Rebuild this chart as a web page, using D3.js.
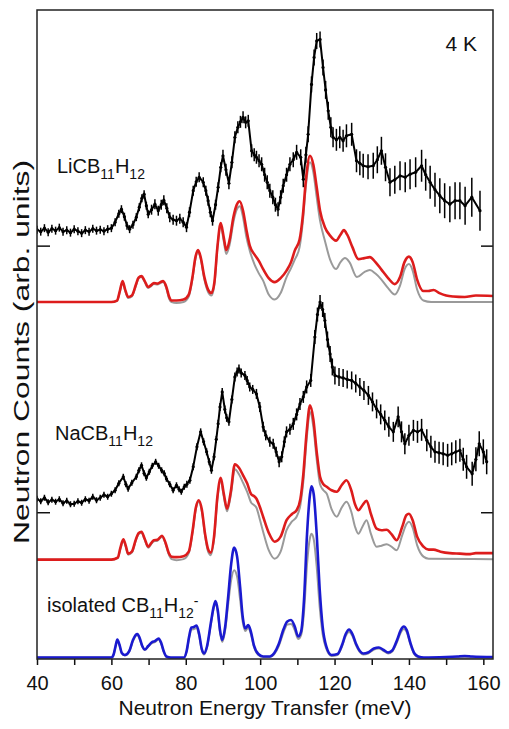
<!DOCTYPE html>
<html>
<head>
<meta charset="utf-8">
<script src="https://cdn.jsdelivr.net/npm/d3@7"></script>
<style>
  html, body { margin: 0; padding: 0; background: #fff; }
  text { font-family: "Liberation Sans", Arial, Helvetica, sans-serif; fill: #111; }
</style>
</head>
<body>
<svg id="chart" width="509" height="729"></svg>
<script>
// ---------------- DATA (energy in meV, intensity in arb. units incl. vertical offsets) -------------
const xTicks = [40, 50, 60, 70, 80, 90, 100, 110, 120, 130, 140, 150, 160];
const xTickLabels = ["40", "", "60", "", "80", "", "100", "", "120", "", "140", "", "160"];
const yMarks = [29.4, 82.8];

// LiCB11H12 experiment: [E, counts, error]
const liExp = [
[40,86.0,0.8],[41,85.6,0.8],[42,86.3,0.8],[43,85.5,0.8],[44,86.2,0.8],[45,85.8,0.8],[46,86.4,0.8],[47,85.6,0.8],
[48,85.9,0.8],[49,85.4,0.8],[50,86.1,0.8],[51,85.7,0.8],[52,85.3,0.8],[53,85.9,0.8],[54,85.6,0.8],[55,86.2,0.8],
[56,85.8,0.8],[57,86.0,0.8],[58,85.7,0.8],[59,86.1,0.8],[60,86.3,0.8],[61,87.5,0.8],[62,89.2,0.8],[62.7,90.1,0.8],
[63.5,88.6,0.8],[64.2,86.8,0.8],[64.9,86.1,0.8],[65.8,87.0,0.8],[66.7,88.5,0.8],[67.5,90.5,0.8],[68.2,92.3,0.8],
[68.8,93.1,0.8],[69.4,90.8,0.8],[69.9,89.1,0.8],[70.8,90.0,1.0],[71.7,91.1,1.0],[72.6,89.8,1.0],[73.4,91.0,1.0],
[74.1,91.9,1.0],[74.9,90.3,1.0],[75.7,88.5,1.0],[76.6,88.0,1.0],[77.5,87.8,1.0],[78.4,88.2,1.0],[79.3,87.5,1.0],
[80.2,86.5,1.0],[81.0,89.5,1.0],[82.0,93.8,1.0],[82.8,95.6,1.0],[83.6,96.5,1.0],[84.7,95.5,1.0],[85.4,93.8,1.0],
[86.0,91.8,1.0],[86.6,89.5,1.0],[87.2,87.8,1.0],[88.0,91.0,1.0],[88.7,94.5,1.0],[89.4,98.5,1.0],[90.0,100.8,1.2],
[90.8,98.0,1.2],[91.6,95.3,1.2],[92.4,99.5,1.2],[93.2,104.5,1.2],[94.0,106.5,1.2],[94.7,107.6,1.2],[95.4,108.5,1.2],
[96.1,107.5,1.2],[96.8,107.8,1.2],[97.7,101.8,1.3],[98.4,101.0,1.3],[99.0,100.5,1.3],[99.7,99.8,1.3],[100.4,99.1,1.4],
[101.2,97.0,1.4],[101.9,95.5,1.4],[102.6,93.8,1.4],[103.4,92.5,1.4],[104.1,91.0,1.4],[104.8,90.1,1.4],[105.5,92.5,1.4],
[106.2,94.8,1.4],[107.1,97.0,1.4],[108.0,99.1,1.4],[108.9,100.0,1.5],[109.8,101.5,1.5],[110.9,100.5,1.6],[111.6,96.1,1.6],
[112.3,101.0,1.6],[112.9,105.1,1.6],[113.8,115.1,1.6],[114.5,120.5,1.6],[115.2,123.8,1.6],[116.1,124.1,1.6],
[116.9,118.5,1.6],[117.6,114.0,1.8],[118.3,109.8,1.8],[119.0,106.5,2.0],[119.6,104.5,2.0],[120.5,104.0,2.2],
[121.4,104.5,2.2],[122.3,103.8,2.2],[123.2,104.8,2.3],[124.6,105.1,2.3],[125.9,99.8,2.3],[126.8,99.3,2.4],
[127.7,98.8,2.4],[129.0,98.6,2.5],[130.4,98.8,2.6],[131.5,100.0,2.7],[132.6,101.8,2.8],[133.7,98.5,2.8],[134.9,95.5,2.8],
[136.2,96.0,2.8],[137.6,96.8,2.9],[139.0,96.5,3.0],[140.3,97.1,3.0],[141.8,97.5,3.0],[143.4,98.8,3.2],[144.5,97.0,3.2],
[145.7,95.5,3.3],[147.0,94.0,3.4],[148.3,92.8,3.5],[149.6,91.8,3.5],[151.0,91.1,3.6],[152.4,91.8,3.7],[153.7,91.8,3.7],
[155.1,90.8,3.8],[156.9,92.5,3.9],[159.1,89.8,4.0]
];

// NaCB11H12 experiment: [E, counts, error]
const naExp = [
[40,32.1,0.6],[41,31.6,0.6],[42,32.3,0.6],[43,31.4,0.6],[44,31.9,0.6],[45,31.5,0.6],[46,32.0,0.6],[47,31.2,0.6],
[48,31.7,0.6],[49,31.0,0.6],[50,31.1,0.6],[51,31.6,0.6],[52,31.3,0.6],[53,32.0,0.6],[54,31.7,0.6],[55,32.5,0.6],
[56,31.8,0.6],[57,32.3,0.6],[58,32.9,0.6],[59,32.5,0.6],[60,33.1,0.6],[61,33.8,0.6],[62,35.2,0.6],[63.2,36.5,0.6],
[63.9,35.0,0.6],[64.5,34.1,0.6],[65.5,35.3,0.6],[66.7,36.5,0.6],[67.4,37.8,0.6],[68.1,38.8,0.6],[68.8,37.2,0.6],
[69.4,36.3,0.6],[70.2,37.5,0.6],[71.0,38.7,0.6],[71.9,39.5,0.6],[72.7,38.7,0.6],[73.5,37.8,0.6],[74.2,37.2,0.6],
[74.8,36.1,0.6],[75.7,35.0,0.6],[76.6,33.8,0.6],[77.5,34.8,0.6],[78.2,34.0,0.6],[78.8,33.5,0.6],[79.6,34.5,0.6],
[80.3,35.0,0.7],[81.1,35.8,0.7],[82.0,38.5,0.7],[83.0,42.5,0.7],[84.0,45.5,0.7],[84.8,43.5,0.7],[85.6,41.5,0.7],
[86.3,39.5,0.7],[86.9,37.8,0.7],[87.6,40.5,0.7],[88.2,44.0,0.7],[88.7,47.1,0.8],[89.2,50.5,0.8],[89.8,53.5,0.8],
[90.5,50.0,0.8],[91.0,48.3,0.8],[91.6,47.5,0.8],[92.4,52.0,0.8],[93.2,56.5,0.9],[93.8,57.5,0.9],[94.3,58.1,0.9],
[94.9,57.3,0.9],[95.9,56.8,0.9],[96.5,55.8,0.9],[97.2,54.5,0.9],[98.0,54.0,0.9],[99.0,53.1,1.0],[99.9,50.5,1.0],
[100.8,46.5,1.0],[101.5,44.8,1.0],[102.6,43.5,1.0],[103.5,43.1,1.0],[104.3,41.5,1.0],[105.1,39.5,1.1],[105.8,40.5,1.1],
[106.5,43.5,1.1],[107.1,45.5,1.1],[108.0,46.0,1.1],[108.9,47.1,1.2],[109.8,49.0,1.2],[110.7,51.1,1.2],[111.6,52.5,1.2],
[112.5,54.5,1.3],[113.6,55.8,1.3],[114.7,64.5,1.4],[115.4,69.0,1.4],[116.1,71.5,1.4],[116.8,70.0,1.5],[117.4,67.8,1.5],
[118.1,64.0,1.6],[118.8,61.1,1.6],[119.4,58.5,1.7],[120.1,56.8,1.8],[121.2,56.5,1.8],[122.3,56.3,1.8],[123.4,56.0,1.8],
[124.6,55.8,1.8],[125.7,55.2,1.8],[126.8,54.5,1.8],[127.9,53.8,1.9],[129.1,52.8,1.9],[130.2,51.5,1.9],[131.3,50.1,1.9],
[132.4,49.0,2.0],[133.5,47.8,2.0],[134.6,46.5,2.0],[135.8,45.5,2.0],[137.1,48.5,2.1],[138.0,45.5,2.1],[138.9,43.1,2.1],
[140.0,44.8,2.1],[141.2,45.8,2.1],[142.3,45.5,2.2],[143.4,45.9,2.2],[144.8,43.8,2.2],[145.9,42.5,2.2],[147.0,41.5,2.2],
[148.1,41.3,2.2],[149.2,41.1,2.3],[150.4,40.8,2.3],[151.5,41.1,2.3],[152.6,41.5,2.3],[153.7,41.8,2.3],[154.6,40.0,2.3],
[155.5,38.5,2.4],[157.0,37.1,2.4],[158.0,40.0,2.4],[158.9,43.1,2.5],[160.0,41.5,2.5],[160.9,39.5,2.5]
];

// LiCB11H12 calculation (red) and second calculation (gray): [E, value]
const liCalcRed = [
[40,71.5],[60,71.5],[61.5,71.8],[62.3,73.8],[63.0,75.7],[63.7,74.0],[64.5,72.5],[65.5,72.8],[66.6,75.0],[67.3,76.4],
[68.1,76.7],[68.9,75.8],[69.9,74.5],[70.7,74.9],[71.4,75.3],[72.4,75.2],[73.2,75.5],[73.9,75.7],[74.8,74.5],[75.5,72.6],
[76.2,71.8],[77.5,71.8],[79.4,72.0],[80.8,73.0],[81.8,76.5],[82.6,80.5],[83.3,81.9],[84.0,80.5],[85.0,76.5],[86.0,74.0],
[86.9,73.3],[87.7,75.5],[88.5,82.5],[89.4,87.3],[90.2,84.5],[90.9,81.9],[91.8,84.0],[92.8,88.5],[93.7,91.0],[94.5,91.7],
[95.4,89.8],[96.3,86.0],[97.2,82.8],[98.5,81.0],[99.6,79.8],[100.8,78.1],[102.3,76.3],[103.9,75.5],[105.5,76.3],
[107.1,77.8],[108.3,79.5],[109.3,81.8],[110.6,84.0],[111.5,89.0],[112.3,96.0],[113.4,100.8],[114.3,99.0],[115.2,94.5],
[116.1,89.8],[117.4,86.5],[118.8,84.8],[120.4,83.8],[121.6,85.0],[122.5,85.9],[123.4,85.0],[124.8,82.5],[126.4,80.1],
[128.0,80.3],[129.5,80.5],[131.0,79.5],[132.6,78.0],[134.4,76.3],[136.2,75.1],[137.6,76.5],[138.8,79.5],[140.0,80.6],
[141.0,79.5],[142.2,76.0],[143.9,73.7],[145.2,73.7],[146.6,73.9],[148.2,73.3],[150.0,72.8],[151.9,72.6],[155,72.5],
[158,72.8],[162.6,72.7]
];
const liCalcGray = [
[40,71.5],[60,71.5],[61.5,71.7],[62.3,73.6],[63.0,75.5],[63.7,73.8],[64.5,72.3],[65.5,72.6],[66.6,74.8],[67.3,76.2],
[68.1,76.5],[68.9,75.6],[69.9,74.3],[70.7,74.7],[71.4,75.1],[72.4,75.0],[73.2,75.3],[73.9,75.5],[74.8,74.2],[75.5,72.2],
[76.2,71.5],[77.5,71.3],[79.4,71.5],[80.8,72.6],[81.8,76.2],[82.6,80.2],[83.3,81.6],[84.0,80.2],[85.0,76.0],[86.0,73.5],
[86.9,72.8],[87.7,75.0],[88.5,82.3],[89.4,86.8],[90.2,83.7],[90.9,81.1],[91.8,83.0],[92.8,87.5],[93.7,90.0],[94.5,90.7],
[95.4,88.5],[96.3,84.5],[97.2,81.8],[98.5,79.0],[99.6,77.3],[100.8,75.8],[102.3,73.0],[103.9,72.0],[105.5,73.3],
[107.1,76.5],[108.3,78.3],[109.3,80.0],[110.6,82.5],[111.5,87.8],[112.3,94.8],[113.4,99.5],[114.3,97.5],[115.2,92.5],
[116.1,87.8],[117.4,83.8],[118.8,80.0],[120.4,78.1],[121.6,79.5],[122.8,80.3],[124.0,79.5],[126.0,76.5],[128.0,77.5],
[129.5,77.9],[131.0,77.2],[132.6,76.0],[134.4,74.3],[136.2,73.0],[137.6,74.8],[138.8,78.0],[140.0,79.1],[141.0,77.8],
[142.2,74.0],[143.9,71.8],[146,71.5],[162.6,71.5]
];

// NaCB11H12 calculation (red) and second calculation (gray): [E, value]
const naCalcRed = [
[40,19.9],[60,19.9],[61.7,20.3],[62.4,22.2],[63.2,24.0],[63.9,22.6],[64.5,21.1],[65.5,21.5],[66.6,24.0],[67.3,25.2],
[68.1,25.5],[68.9,24.2],[69.9,22.5],[70.7,23.2],[71.4,23.8],[72.4,23.9],[73.6,24.7],[74.6,23.2],[75.4,21.3],[76.2,20.5],
[77.5,20.4],[79.4,20.6],[80.8,21.5],[81.8,25.5],[82.7,30.3],[83.5,31.8],[84.3,30.0],[85.2,25.0],[86.0,22.0],[86.7,21.3],
[87.6,24.5],[88.5,32.5],[89.4,36.3],[90.2,33.2],[91.1,30.1],[92.1,33.5],[93.2,39.0],[94.3,38.3],[95.4,36.8],[96.5,35.2],
[97.6,33.0],[98.4,32.6],[99.0,32.1],[99.9,30.5],[100.8,28.5],[102.3,25.3],[103.9,23.5],[105.5,24.5],[107.1,27.8],
[108.5,29.0],[109.8,29.8],[110.8,32.0],[111.6,37.0],[112.5,45.5],[113.4,50.8],[114.3,48.0],[115.2,41.5],[116.1,36.5],
[117.0,35.0],[117.9,34.5],[119.2,33.8],[120.6,33.5],[121.9,34.8],[123.2,35.8],[124.5,33.8],[125.5,31.0],[126.4,29.8],
[127.5,30.8],[128.6,31.7],[129.8,29.0],[131.3,26.1],[132.6,25.8],[134.0,25.9],[135.3,25.0],[136.7,23.8],[138.2,26.5],
[139.3,28.8],[140.0,29.1],[141.0,27.8],[142.2,24.5],[143.9,22.5],[145.3,21.9],[146.6,21.9],[148.5,21.5],[151,21.2],
[153.7,21.1],[156,21.0],[158,21.2],[162.6,21.2]
];
const naCalcGray = [
[40,19.9],[60,19.9],[61.7,20.2],[62.4,22.0],[63.2,23.8],[63.9,22.4],[64.5,20.9],[65.5,21.3],[66.6,23.8],[67.3,25.0],
[68.1,25.3],[68.9,24.0],[69.9,22.3],[70.7,23.0],[71.4,23.6],[72.4,23.7],[73.6,24.5],[74.6,23.0],[75.4,21.0],[76.2,20.0],
[77.5,19.8],[79.4,20.0],[80.8,21.2],[81.8,25.2],[82.7,30.0],[83.5,31.5],[84.3,29.7],[85.2,24.6],[86.0,21.5],[86.7,20.8],
[87.6,24.0],[88.5,32.0],[89.4,35.8],[90.2,32.6],[91.1,29.6],[92.1,32.8],[93.2,38.0],[94.3,37.0],[95.4,35.3],[96.5,33.5],
[97.6,31.3],[98.4,30.8],[99.0,30.3],[99.9,28.0],[100.8,25.5],[102.3,21.8],[103.9,20.1],[105.5,21.5],[107.1,25.8],
[108.5,27.5],[109.8,28.5],[110.8,30.8],[111.6,35.5],[112.5,44.0],[113.4,49.5],[114.3,46.5],[115.2,40.0],[116.1,35.0],
[117.0,33.8],[117.9,33.1],[119.2,30.0],[120.6,28.5],[121.9,30.3],[123.2,31.5],[124.5,29.5],[125.5,26.5],[126.4,25.1],
[127.5,26.5],[128.6,27.8],[129.8,25.0],[131.3,22.5],[132.6,22.7],[134.0,23.0],[135.3,22.5],[136.7,21.8],[138.2,24.8],
[139.3,27.0],[140.0,27.5],[141.0,26.3],[142.2,22.8],[143.9,20.5],[145.3,20.1],[162.6,20.0]
];

// isolated CB11H12- calculation (blue) and second calculation (gray): [E, value]
const isoCalcBlue = [
[40,0.3],[60,0.3],[60.6,0.9],[61.1,2.5],[61.6,3.9],[62.2,2.8],[62.8,1.2],[63.6,0.8],[64.8,1.6],[65.8,3.8],[66.5,4.8],
[67.0,5.0],[67.6,4.2],[68.3,2.6],[69.0,1.9],[69.9,2.6],[70.8,3.3],[71.7,3.6],[72.7,4.1],[73.4,3.2],[74.1,1.5],[74.8,0.5],
[76,0.3],[79.5,0.3],[80.2,1.5],[80.9,4.5],[81.5,6.3],[82.2,6.4],[82.9,6.7],[83.6,5.0],[84.3,2.0],[84.9,1.1],[85.7,2.5],
[86.8,7.5],[87.5,10.5],[88.0,11.6],[88.6,9.8],[89.2,5.8],[89.8,3.8],[90.6,6.5],[91.4,12.5],[92.2,19.0],[93.0,22.3],
[93.8,20.5],[94.6,14.5],[95.3,8.5],[96.0,6.1],[96.8,6.8],[97.5,5.5],[98.3,2.8],[99.5,1.0],[100.8,0.5],[102.6,0.5],
[103.8,1.2],[105.0,3.0],[106.3,6.0],[107.3,7.5],[108.3,7.8],[109.3,6.5],[110.2,4.5],[111.0,5.5],[111.8,12.0],[112.6,25.0],
[113.4,33.0],[113.8,34.6],[114.4,33.0],[115.2,25.0],[116.0,14.0],[116.8,6.5],[117.8,2.5],[119.2,0.8],[120.8,1.0],
[122.0,2.8],[123.0,5.0],[123.9,5.9],[124.8,5.0],[125.8,3.0],[126.8,1.6],[127.7,1.1],[129.0,1.3],[130.6,2.1],[131.9,2.3],
[133.2,1.8],[134.4,1.3],[135.5,1.7],[136.8,3.8],[137.8,5.8],[138.6,6.5],[139.4,5.8],[140.4,3.2],[141.4,1.2],[142.5,0.5],
[144,0.3],[150,0.4],[153,0.5],[155,0.6],[157,0.5],[162.6,0.4]
];
const isoCalcGray = [
[40,0.3],[60,0.3],[60.6,0.9],[61.1,2.4],[61.6,3.7],[62.2,2.7],[62.8,1.1],[63.6,0.7],[64.8,1.5],[65.8,3.6],[66.5,4.6],
[67.0,4.8],[67.6,4.0],[68.3,2.5],[69.0,1.8],[69.9,2.5],[70.8,3.1],[71.7,3.4],[72.7,3.9],[73.4,3.0],[74.1,1.4],[74.8,0.4],
[76,0.2],[79.5,0.2],[80.2,1.4],[80.9,4.2],[81.5,5.9],[82.2,6.0],[82.9,6.2],[83.6,4.6],[84.3,1.8],[84.9,0.9],[85.7,2.3],
[86.8,7.2],[87.5,10.1],[88.0,11.2],[88.6,9.4],[89.2,5.4],[89.8,3.4],[90.6,5.8],[91.4,11.0],[92.2,15.8],[93.0,17.8],
[93.8,16.5],[94.6,12.0],[95.3,7.5],[96.0,5.6],[96.8,6.3],[97.5,5.0],[98.3,2.5],[99.5,0.8],[100.8,0.4],[102.6,0.4],
[103.8,1.0],[105.0,2.6],[106.3,5.4],[107.3,6.9],[108.3,7.0],[109.3,5.8],[110.2,4.0],[111.0,4.8],[111.8,9.5],[112.6,19.0],
[113.4,24.3],[113.8,25.1],[114.4,24.0],[115.2,18.5],[116.0,10.5],[116.8,5.0],[117.8,2.0],[119.2,0.6],[120.8,0.8],
[122.0,2.5],[123.0,4.6],[123.9,5.4],[124.8,4.6],[125.8,2.7],[126.8,1.4],[127.7,0.9],[129.0,1.1],[130.6,1.9],[131.9,2.1],
[133.2,1.6],[134.4,1.1],[135.5,1.5],[136.8,3.4],[137.8,5.3],[138.6,6.0],[139.4,5.4],[140.4,2.9],[141.4,1.0],[142.5,0.3],
[144,0.2],[162.6,0.2]
];

// ---------------- CHART ----------------
const svg = d3.select("#chart");
const plot = { left: 37, right: 493, top: 10, bottom: 659 };

const x = d3.scaleLinear().domain([40, 162.6]).range([plot.left, plot.right]);
const y = d3.scaleLinear().domain([0, 130]).range([plot.bottom, plot.top]);

svg.append("clipPath").attr("id", "clip")
  .append("rect").attr("x", plot.left).attr("y", plot.top)
  .attr("width", plot.right - plot.left).attr("height", plot.bottom - plot.top);

const g = svg.append("g").attr("clip-path", "url(#clip)");

const smooth = d3.line().x(d => x(d[0])).y(d => y(d[1])).curve(d3.curveMonotoneX);
const straight = d3.line().x(d => x(d[0])).y(d => y(d[1]));

function calc(data, color, width) {
  g.append("path").datum(data).attr("d", smooth)
    .attr("fill", "none").attr("stroke", color).attr("stroke-width", width)
    .attr("stroke-linejoin", "round");
}
calc(liCalcGray, "#9a9a9a", 2);
calc(liCalcRed, "#dd1c1c", 2.6);
calc(naCalcGray, "#9a9a9a", 2);
calc(naCalcRed, "#dd1c1c", 2.6);
calc(isoCalcGray, "#9a9a9a", 2);
calc(isoCalcBlue, "#1a1ad0", 2.6);

function exp(data) {
  const eg = g.append("g");
  eg.selectAll("line.err").data(data).join("line")
    .attr("x1", d => x(d[0])).attr("x2", d => x(d[0]))
    .attr("y1", d => y(d[1] - d[2])).attr("y2", d => y(d[1] + d[2]))
    .attr("stroke", "#000").attr("stroke-width", 1.5);
  eg.append("path").datum(data).attr("d", straight)
    .attr("fill", "none").attr("stroke", "#000").attr("stroke-width", 2)
    .attr("stroke-linejoin", "round");
  eg.selectAll("circle").data(data).join("circle")
    .attr("cx", d => x(d[0])).attr("cy", d => y(d[1])).attr("r", 1.6)
    .attr("fill", "#000");
}
exp(liExp);
exp(naExp);

// axes
const xAxis = d3.axisBottom(x).tickValues(xTicks)
  .tickFormat((d, i) => xTickLabels[i]).tickSize(6).tickPadding(10.5);
const xg = svg.append("g").attr("transform", `translate(0,${plot.bottom})`).call(xAxis);
xg.select(".domain").remove();
xg.selectAll(".tick line").attr("stroke", "#111").attr("stroke-width", 1.5);
xg.selectAll(".tick text").style("font-size", "20px").style("font-family", '"Liberation Sans", Arial, sans-serif').attr("fill", "#111");

const yl = d3.axisLeft(y).tickValues(yMarks).tickFormat("").tickSize(-13);
const ylg = svg.append("g").attr("transform", `translate(${plot.left},0)`).call(yl);
ylg.select(".domain").remove();
ylg.selectAll(".tick line").attr("stroke", "#111").attr("stroke-width", 1.5);

const yr = d3.axisRight(y).tickValues(yMarks).tickFormat("").tickSize(-12);
const yrg = svg.append("g").attr("transform", `translate(${plot.right},0)`).call(yr);
yrg.select(".domain").remove();
yrg.selectAll(".tick line").attr("stroke", "#111").attr("stroke-width", 1.5);

// frame
svg.append("rect").attr("x", plot.left).attr("y", plot.top)
  .attr("width", plot.right - plot.left).attr("height", plot.bottom - plot.top)
  .attr("fill", "none").attr("stroke", "#222").attr("stroke-width", 1.5);

// axis titles
svg.append("text").attr("x", 265).attr("y", 715).attr("text-anchor", "middle")
  .style("font-size", "21px").text("Neutron Energy Transfer (meV)");

svg.append("text").attr("transform", "translate(29,352) rotate(-90)")
  .attr("text-anchor", "middle").style("font-size", "22px")
  .attr("textLength", 384).attr("lengthAdjust", "spacingAndGlyphs")
  .text("Neutron Counts (arb. units)");

// annotations
svg.append("text").attr("x", 477).attr("y", 51).attr("text-anchor", "end")
  .style("font-size", "21px").text("4 K");

function formula(px, py, parts) {
  const t = svg.append("text").attr("x", px).attr("y", py).style("font-size", "20px");
  parts.forEach(p => {
    const s = t.append("tspan").text(p.t);
    if (p.sub) s.style("font-size", "14px").attr("dy", 6);
    if (p.back) s.attr("dy", -6);
    if (p.sup) s.style("font-size", "14px").attr("dy", -12);
  });
}
formula(57, 173, [{t:"LiCB"},{t:"11",sub:true},{t:"H",back:true},{t:"12",sub:true}]);
formula(55, 440, [{t:"NaCB"},{t:"11",sub:true},{t:"H",back:true},{t:"12",sub:true}]);
formula(47, 612, [{t:"isolated CB"},{t:"11",sub:true},{t:"H",back:true},{t:"12",sub:true},{t:"-",sup:true}]);
</script>
</body>
</html>
